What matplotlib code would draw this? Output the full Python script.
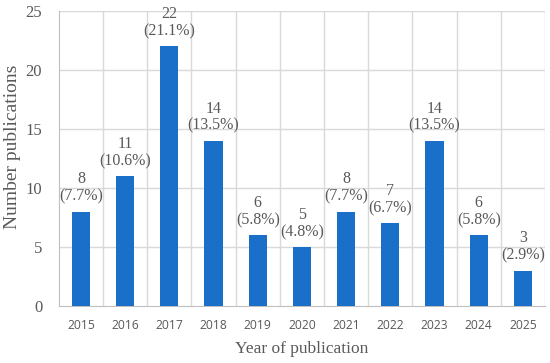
import matplotlib.pyplot as plt
import numpy as np

years = ["2015", "2016", "2017", "2018", "2019", "2020", "2021", "2022", "2023", "2024", "2025"]
counts = [8, 11, 22, 14, 6, 5, 8, 7, 14, 6, 3]
shares = ["7.7%", "10.6%", "21.1%", "13.5%", "5.8%", "4.8%", "7.7%", "6.7%", "13.5%", "5.8%", "2.9%"]

serif = "Liberation Serif"
grey = "#595959"

fig = plt.figure(figsize=(5.5, 3.63), dpi=100)
ax = fig.add_axes([0.107, 0.157, 0.884, 0.813])

x = np.arange(len(years))
ax.bar(x, counts, width=0.41, color="#1a70c8", zorder=3)

# labels above bars
for xi, c, s in zip(x, counts, shares):
    ax.annotate(f"{c}\n({s})", (xi, c), xytext=(0, 5), textcoords="offset points",
                ha="center", va="bottom", family=serif, fontsize=11.5,
                color=grey, linespacing=1.1)

ax.set_xlim(-0.5, len(years) - 0.5)
ax.set_ylim(0, 25)
ax.set_yticks(range(0, 26, 5))
ax.set_xticks(x)
ax.set_xticklabels(years, family="Open Sans", fontsize=8.7, color=grey)
for lbl in ax.get_yticklabels():
    lbl.set_family(serif)
    lbl.set_fontsize(12)
    lbl.set_color(grey)

# grid: horizontal at ticks, vertical at category boundaries
for yv in range(5, 26, 5):
    ax.axhline(yv, color="#d9d9d9", lw=1, zorder=0)
for b in np.arange(0.5, len(years), 1.0):
    ax.axvline(b, color="#d9d9d9", lw=1, zorder=0)

ax.tick_params(axis="x", length=0, pad=9)
ax.tick_params(axis="y", length=0, pad=12)
for side in ["top", "right"]:
    ax.spines[side].set_visible(False)
ax.spines["left"].set_color("#bfbfbf")
ax.spines["bottom"].set_color("#bfbfbf")

ax.set_xlabel("Year of publication", family=serif, fontsize=12.5, color=grey, labelpad=7)
ax.set_ylabel("Number publications", family=serif, fontsize=14, color=grey)
ax.yaxis.set_label_coords(-0.078, 0.54)

fig.savefig("out.png", dpi=100)
